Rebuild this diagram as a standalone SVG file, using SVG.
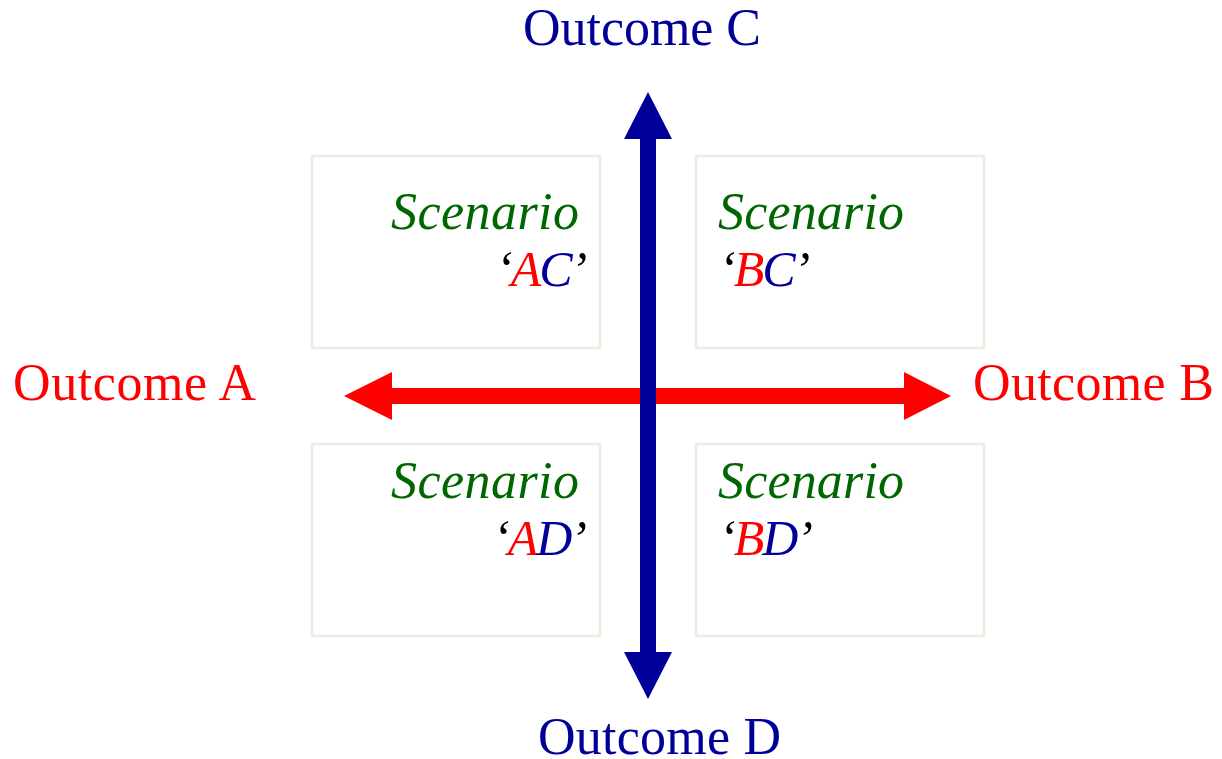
<svg xmlns="http://www.w3.org/2000/svg" width="1222" height="759" viewBox="0 0 1222 759">
<style>
.box{fill:#ffffff;stroke:#eeece1;stroke-width:2.5}
.lbl{font-family:"Liberation Serif",serif;font-size:52px}
.sc{font-family:"Liberation Serif",serif;font-size:52px;font-style:italic;fill:#006600}
.q{font-family:"Liberation Serif",serif;font-size:50px;font-style:italic;fill:#000000;letter-spacing:-2px}
.r{fill:#ff0000}
.b{fill:#000099}
</style>
<rect width="1222" height="759" fill="#ffffff"/>
<g id="box-AC">
<rect class="box" x="312" y="156" width="288" height="192"/>
<text class="sc" x="579" y="229" text-anchor="end" textLength="188">Scenario</text>
<text class="q" x="496" y="286">‘<tspan class="r">A</tspan><tspan class="b">C</tspan>’</text>
</g>
<g id="box-BC">
<rect class="box" x="696" y="156" width="288" height="192"/>
<text class="sc" x="718" y="229" textLength="186">Scenario</text>
<text class="q" x="719" y="286">‘<tspan class="r">B</tspan><tspan class="b">C</tspan>’</text>
</g>
<g id="box-AD">
<rect class="box" x="312" y="444" width="288" height="192"/>
<text class="sc" x="579" y="498" text-anchor="end" textLength="188">Scenario</text>
<text class="q" x="493" y="555">‘<tspan class="r">A</tspan><tspan class="b">D</tspan>’</text>
</g>
<g id="box-BD">
<rect class="box" x="696" y="444" width="288" height="192"/>
<text class="sc" x="718" y="498" textLength="186">Scenario</text>
<text class="q" x="719" y="555">‘<tspan class="r">B</tspan><tspan class="b">D</tspan>’</text>
</g>
<g id="connectors">
<polygon id="axis-AB" fill="#ff0000" points="344,396 392,372 392,388 904,388 904,372 951,396 904,420 904,404 392,404 392,420"/>
<polygon id="axis-CD" fill="#000099" points="648,92 672,139 656,139 656,652 672,652 648,699 624,652 640,652 640,139 624,139"/>
</g>
<g id="outcome-C"><text class="lbl b" x="523" y="45" textLength="238">Outcome C</text></g>
<g id="outcome-D"><text class="lbl b" x="538" y="754" textLength="243">Outcome D</text></g>
<g id="outcome-A"><text class="lbl r" x="13" y="400" textLength="243">Outcome A</text></g>
<g id="outcome-B"><text class="lbl r" x="973" y="400" textLength="241">Outcome B</text></g>
</svg>
